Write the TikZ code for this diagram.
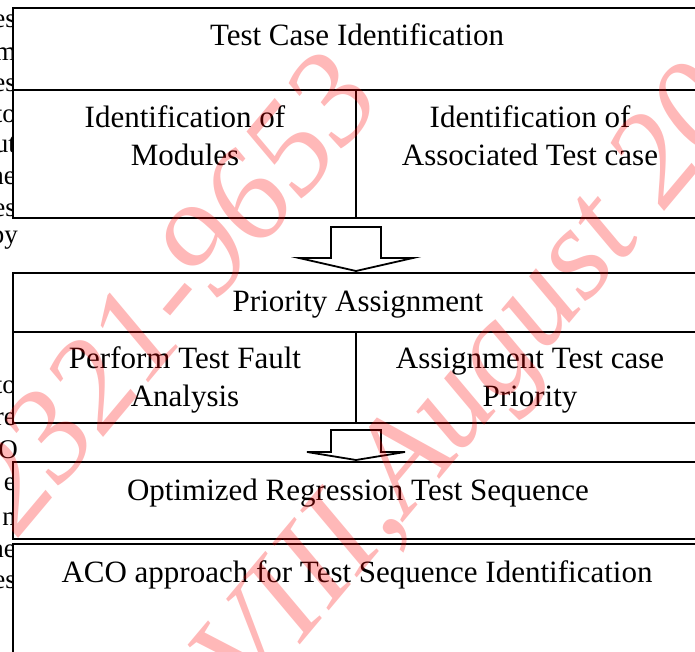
\documentclass[tikz,border=0pt]{standalone}
\usepackage{fontspec}
\setmainfont{Liberation Serif}
\begin{document}
\begin{tikzpicture}[x=1pt,y=-1pt,
  frame/.style={draw=black, line width=1.8pt, fill=white},
  rule/.style={draw=black, line width=1.8pt},
  lbl/.style={font=\fontsize{31}{38}\selectfont, inner sep=0pt, anchor=base, align=center},
  frag/.style={font=\fontsize{27}{31}\selectfont, inner sep=0pt, anchor=base east},
  wm/.style={font=\fontsize{132}{132}\selectfont\itshape, text=red, opacity=0.28, inner sep=0pt, rotate=50},
  blockarrow/.style={draw=black, line width=1.8pt, fill=white, line join=miter}]
\useasboundingbox (0,0) rectangle (695,652);
\clip (0,0) rectangle (695,652);
% clipped text of the neighbouring column
\node[frag] (f1) at (16,28) {es};
\node[frag] (f2) at (16,61) {m};
\node[frag] (f3) at (16,92) {es};
\node[frag] (f4) at (16,123) {to};
\node[frag] (f5) at (16,153) {ut};
\node[frag] (f6) at (16,185) {ne};
\node[frag] (f7) at (16,217) {es};
\node[frag] (f8) at (18,243) {py};
\node[frag] (f9) at (16,393) {to};
\node[frag] (f10) at (16,425) {re};
\node[frag] (f11) at (18,458) {O};
\node[frag] (f12) at (16,490) {e};
\node[frag] (f13) at (16,525) {n};
\node[frag] (f14) at (16,557) {ne};
\node[frag] (f15) at (16,588) {es};
% boxes
\node[frame, anchor=north west, minimum width=692pt, minimum height=210pt] (b1) at (12,7) {};
\draw[rule] (12,90) -- (704,90);
\draw[rule] (356,90) -- (356,217);
\node[frame, anchor=north west, minimum width=692pt, minimum height=150pt] (b2) at (12,272) {};
\draw[rule] (12,332) -- (704,332);
\draw[rule] (356,332) -- (356,422);
\node[frame, anchor=north west, minimum width=692pt, minimum height=77pt] (b3) at (12,461) {};
\node[frame, anchor=north west, minimum width=692pt, minimum height=160pt] (b4) at (12,543) {};
% labels (base = baseline of the last line)
\node[lbl] (t1) at (357,46) {Test Case Identification};
\node[lbl] (t1a) at (185,166) {Identification of\\Modules};
\node[lbl] (t1b) at (530,166) {Identification of\\Associated Test case};
\node[lbl] (t2) at (358,311) {Priority Assignment};
\node[lbl] (t2a) at (185,406) {Perform Test Fault\\Analysis};
\node[lbl] (t2b) at (530,406) {Assignment Test case\\Priority};
\node[lbl] (t3) at (358,500) {Optimized Regression Test Sequence};
\node[lbl] (t4) at (357,582) {ACO approach for Test Sequence Identification};
% block arrows
\coordinate (a1) at (356,271);
\draw[blockarrow] (a1) ++(-25,-44) -- ++(0,31) -- ++(-32,0) -- (a1) -- ++(57,-13) -- ++(-32,0) -- ++(0,-31) -- cycle;
\coordinate (a2) at (356,460);
\draw[blockarrow] (a2) ++(-25,-30) -- ++(0,22) -- ++(-24,0) -- (a2) -- ++(49,-8) -- ++(-24,0) -- ++(0,-22) -- cycle;
% watermark
\node[wm, anchor=base east] (wm1) at (386,100) {ISSN: 2321-9653};
\node[wm, anchor=base west] (wm2) at (407,518) {August 2018};
\node[wm, anchor=base east] (wm3) at (wm2.base west) {Volume 6 Issue VIII,\ };
\end{tikzpicture}
\end{document}
